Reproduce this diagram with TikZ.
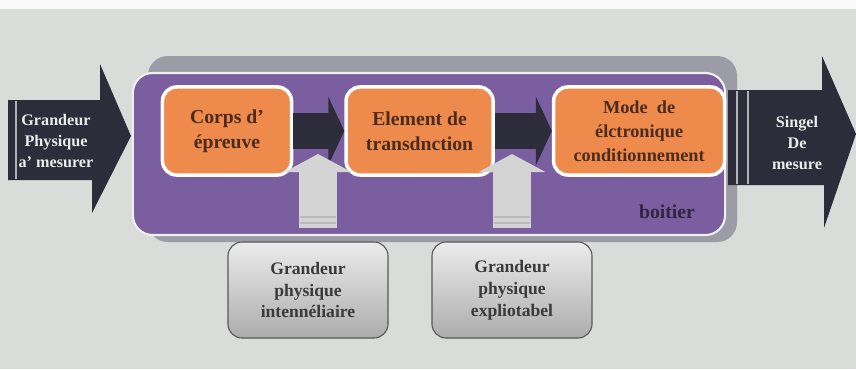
\documentclass[tikz,border=0pt]{standalone}
\usepackage{fontspec}
\setmainfont{Liberation Serif}
\usetikzlibrary{arrows.meta,positioning}

\definecolor{bgcol}{HTML}{D9DCD8}
\definecolor{boitiercol}{HTML}{7A5E9F}
\definecolor{framecol}{HTML}{9C9CA6}
\definecolor{orangecol}{HTML}{EE8A4C}
\definecolor{darkarrow}{HTML}{2C2C3A}
\definecolor{browntext}{HTML}{4A2C1E}
\definecolor{lightarrow}{HTML}{D4D4D4}
\definecolor{graytext}{HTML}{3A3A3A}

\tikzset{
  stagebox/.style={rectangle, rounded corners=10pt, draw=white, line width=2.5pt,
    fill=orangecol, text=browntext, align=center, font=\bfseries\fontsize{14}{18}\selectfont,
    minimum height=2.2cm},
  grandeurbox/.style={rectangle, rounded corners=10pt, draw=gray!70!black, line width=0.8pt,
    top color=gray!15, bottom color=gray!65, text=graytext, align=center,
    font=\bfseries\fontsize{12.5}{15.5}\selectfont, minimum width=4cm, minimum height=2.4cm},
  biglabel/.style={text=gray!15, align=center, font=\bfseries\fontsize{11.5}{15}\selectfont},
  darklink/.style={draw=darkarrow, line width=0.875cm, -{Triangle[length=0.4cm,width=1.7cm]}},
  uplink/.style={draw=lightarrow, line width=0.925cm, -{Triangle[length=0.45cm,width=1.65cm]}}
}

\begin{document}
\begin{tikzpicture}[x=0.025cm, y=-0.025cm]
  \useasboundingbox (0,0) rectangle (856,369);
  \fill[bgcol] (0,0) rectangle (856,369);
  \fill[gray!5] (0,0) rectangle (856,9);

  % boitier
  \fill[framecol, rounded corners=14pt] (148,56) rectangle (737,242);
  \node (boitier) [rectangle, rounded corners=14pt, draw=white!85!framecol, line width=1.5pt,
    fill=boitiercol, minimum width=14.8cm, minimum height=4.05cm] at (429,154) {};
  \node (boitierlabel) [text=boitiercol!40!black, font=\bfseries\fontsize{14}{16}\selectfont] at (667,212) {boitier};

  % stages
  \node (corps) [stagebox, minimum width=3.225cm] at (227,131) {Corps d'\\épreuve};
  \node (element) [stagebox, minimum width=3.675cm, right=1.275cm of corps] {Element de\\transdnction};
  \node (mode) [stagebox, minimum width=4.275cm, right=1.425cm of element,
    font=\bfseries\fontsize{13}{17}\selectfont] {Mode \ de\\élctronique\\conditionnement};

  \draw[darklink] (corps.east) -- (element.west);
  \draw[darklink] (element.east) -- (mode.west);

  % incoming physical quantities
  \coordinate (up1s) at (318,228);
  \coordinate (up1e) at (318,154);
  \coordinate (up2s) at (512,228);
  \coordinate (up2e) at (512,154);
  \draw[uplink] (up1s) -- (up1e);
  \draw[uplink] (up2s) -- (up2e);
  \foreach \xc in {318,512} {
    \draw[gray!55, line width=1pt] (\xc-18,217) -- (\xc+18,217);
    \draw[gray!55, line width=1pt] (\xc-18,223) -- (\xc+18,223);
  }

  \node (intermediaire) [grandeurbox] at (308,290) {Grandeur\\physique\\intennéliaire};
  \node (exploitable) [grandeurbox] at (512,290) {Grandeur\\physique\\expliotabel};

  % input / output
  \fill[darkarrow] (8,100) -- (100,100) -- (100,64) -- (131,136) -- (92,213) -- (92,180) -- (8,180) -- cycle;
  \draw[gray!60, line width=1pt] (16,101) -- (16,179);
  \node (entree) [biglabel] at (56,141) {Grandeur\\Physique\\a' mesurer};

  \fill[darkarrow] (728,90) -- (822,90) -- (822,56) -- (856,134) -- (824,228) -- (824,185) -- (728,185) -- cycle;
  \draw[gray!60, line width=1pt] (737,91) -- (737,184);
  \draw[gray!60, line width=1pt] (748,91) -- (748,184);
  \node (sortie) [biglabel] at (797,143) {Singel\\De\\mesure};
\end{tikzpicture}
\end{document}
